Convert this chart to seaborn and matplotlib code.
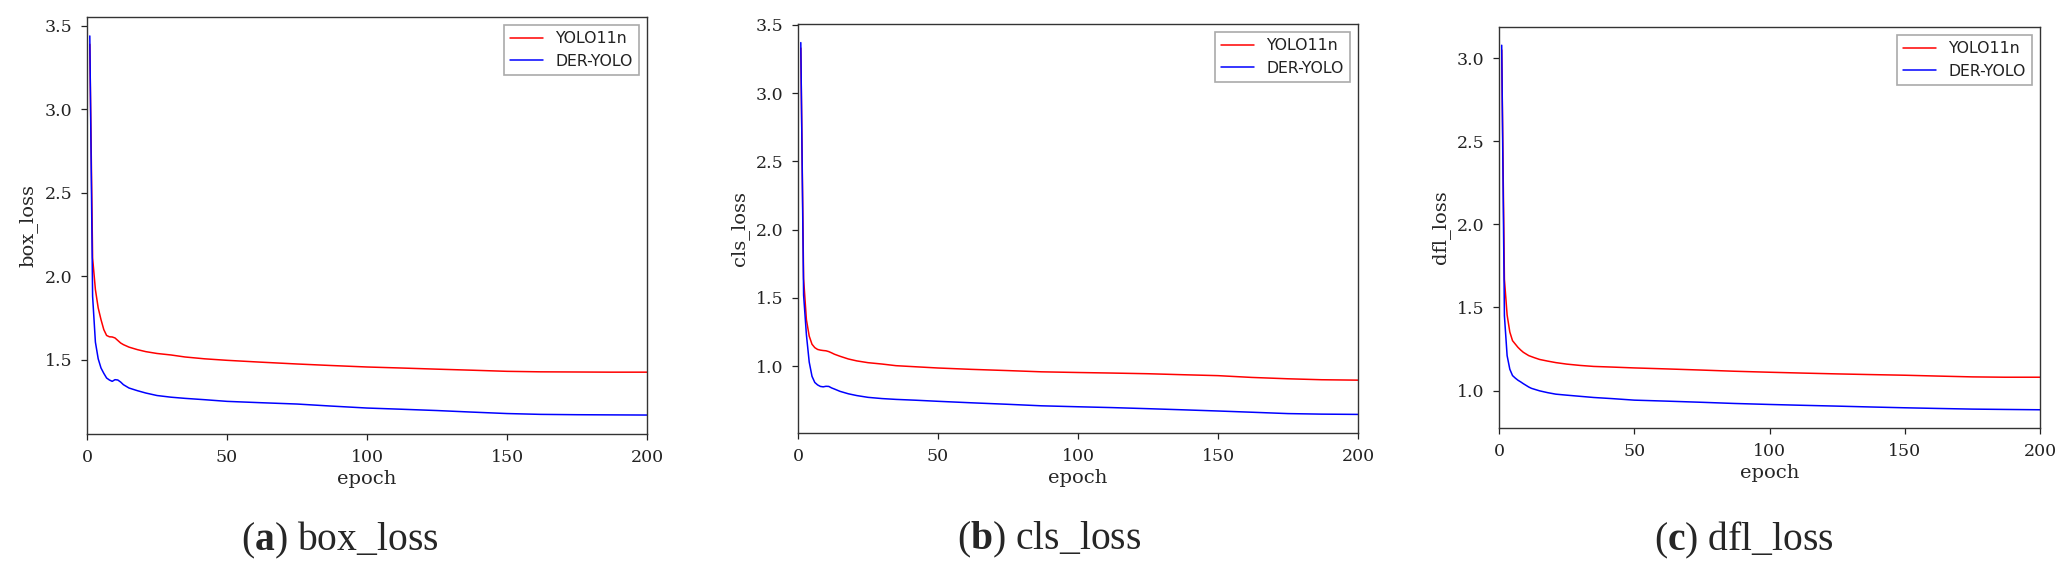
import numpy as np
import pandas as pd
import matplotlib
matplotlib.use("Agg")
import matplotlib.pyplot as plt
import seaborn as sns

# ---------------- data ----------------
epochs = [1, 2, 3, 4, 5, 6, 7, 8, 9, 10, 11, 12, 13, 15, 18, 21, 25, 30, 35, 42,
          50, 62, 75, 87, 100, 112, 125, 137, 150, 162, 175, 187, 200]

models = ["YOLO11n", "DER-YOLO"]

box_yolo11n = [3.39, 2.11, 1.92, 1.81, 1.74, 1.68, 1.645, 1.637, 1.636, 1.630, 1.615,
               1.600, 1.590, 1.575, 1.560, 1.548, 1.537, 1.528, 1.516, 1.505,
               1.496, 1.485, 1.474, 1.465, 1.456, 1.450, 1.443, 1.437, 1.430,
               1.427, 1.426, 1.425, 1.425]
box_der_yolo = [3.44, 1.88, 1.605, 1.505, 1.45, 1.418, 1.39, 1.378, 1.370, 1.380, 1.378,
                1.366, 1.350, 1.330, 1.314, 1.300, 1.285, 1.275, 1.268, 1.260,
                1.250, 1.242, 1.234, 1.222, 1.210, 1.203, 1.195, 1.186, 1.177,
                1.172, 1.170, 1.169, 1.168]

cls_yolo11n = [3.33, 1.64, 1.34, 1.22, 1.16, 1.135, 1.122, 1.117, 1.114, 1.112, 1.106,
               1.097, 1.087, 1.072, 1.052, 1.038, 1.025, 1.015, 1.003, 0.995,
               0.986, 0.976, 0.967, 0.958, 0.953, 0.949, 0.944, 0.937, 0.930,
               0.917, 0.907, 0.900, 0.897]
cls_der_yolo = [3.37, 1.52, 1.23, 1.03, 0.925, 0.88, 0.862, 0.851, 0.848, 0.852, 0.851,
                0.840, 0.832, 0.815, 0.797, 0.784, 0.771, 0.762, 0.756, 0.750,
                0.742, 0.731, 0.720, 0.709, 0.702, 0.696, 0.688, 0.680, 0.671,
                0.662, 0.652, 0.648, 0.646]

dfl_yolo11n = [3.05, 1.67, 1.455, 1.352, 1.30, 1.28, 1.26, 1.244, 1.23, 1.22, 1.21,
               1.204, 1.198, 1.187, 1.177, 1.168, 1.159, 1.151, 1.145, 1.141,
               1.136, 1.130, 1.123, 1.116, 1.110, 1.105, 1.100, 1.096, 1.092,
               1.087, 1.082, 1.080, 1.080]
dfl_der_yolo = [3.079, 1.45, 1.21, 1.128, 1.09, 1.075, 1.062, 1.052, 1.041, 1.031, 1.021,
                1.013, 1.008, 0.998, 0.987, 0.978, 0.972, 0.965, 0.958, 0.951,
                0.942, 0.936, 0.929, 0.922, 0.916, 0.911, 0.906, 0.901, 0.896,
                0.892, 0.888, 0.886, 0.884]

y_labels = ["box_loss", "cls_loss", "dfl_loss"]
caption_letters = ["a", "b", "c"]
x_ticks = [0, 50, 100, 150, 200]

# ---------------- style ----------------
sns.set_style("ticks")
plt.rcParams["font.family"] = ["DejaVu Serif"]
plt.rcParams["mathtext.fontset"] = "custom"
plt.rcParams["mathtext.rm"] = "Liberation Serif"
plt.rcParams["mathtext.bf"] = "Liberation Serif:bold"

W, H = 2072, 575
fig = plt.figure(figsize=(W / 100, H / 100), dpi=100)
fig.patch.set_facecolor("white")

# axes rectangles in pixels: left, right, top, bottom
rects = [(87, 647, 17, 434), (798, 1358, 24, 433), (1499, 2040, 27, 428)]
caption_x = [340, 1049, 1744]
caption_y = 540

series = [(box_yolo11n, box_der_yolo), (cls_yolo11n, cls_der_yolo), (dfl_yolo11n, dfl_der_yolo)]
palette = {"YOLO11n": "#ff0000", "DER-YOLO": "#0000ff"}

for i, ((l, r, t, b), (s_red, s_blue)) in enumerate(zip(rects, series)):
    ax = fig.add_axes([l / W, (H - b) / H, (r - l) / W, (b - t) / H])
    df = pd.DataFrame({
        "epoch": epochs * 2,
        "loss": list(s_red) + list(s_blue),
        "model": [models[0]] * len(epochs) + [models[1]] * len(epochs),
    })
    sns.lineplot(data=df, x="epoch", y="loss", hue="model", hue_order=models,
                 palette=palette, linewidth=1.1, errorbar=None, ax=ax)
    ax.set_xlim(0, 200)
    ax.set_xticks(x_ticks)
    ax.set_xlabel("epoch", fontsize=14, labelpad=3)
    ax.set_ylabel(y_labels[i], fontsize=14, labelpad=5)
    ax.tick_params(axis="both", labelsize=12.5, length=4.5, width=0.9, pad=6,
                   color="#222222", labelcolor="#222222", direction="out")
    for sp in ax.spines.values():
        sp.set_visible(True)
        sp.set_linewidth(1.0)
        sp.set_color("#333333")
    handles, labels = ax.get_legend_handles_labels()
    leg = ax.legend(handles, labels, loc="upper right",
                    prop={"family": "DejaVu Sans", "size": 11.3},
                    fancybox=False, framealpha=1.0, edgecolor="#aaaaaa",
                    borderaxespad=0.5, handlelength=2.1)
    leg.get_frame().set_linewidth(1.2)
    for txt in leg.get_texts():
        txt.set_color("#222222")
    fig.text(caption_x[i] / W, 1 - caption_y / H,
             r"($\mathbf{" + caption_letters[i] + r"}$) " + y_labels[i],
             ha="center", va="center", fontsize=28.5, family="Liberation Serif")

fig.savefig("out.png", dpi=100, facecolor="white")
